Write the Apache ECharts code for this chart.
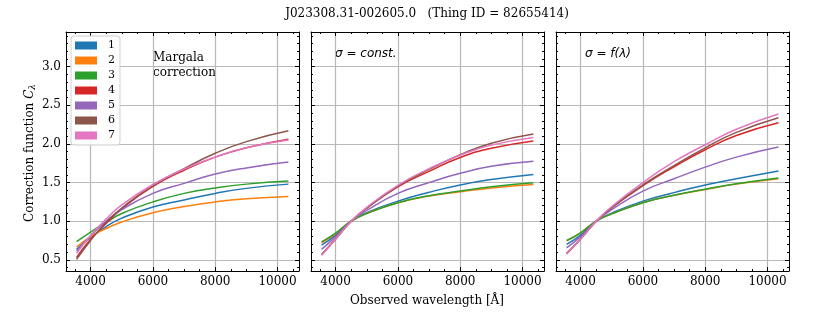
<!DOCTYPE html>
<html>
<head>
<meta charset="utf-8">
<script src="https://cdn.jsdelivr.net/npm/echarts@6/dist/echarts.min.js"></script>
<style>
  html, body { margin: 0; padding: 0; background: #fff; }
  #chart { width: 830px; height: 323px; }
</style>
</head>
<body>
<div id="chart"></div>
<script>
// wavelength samples [Å]
const wavelengths = [3550, 4000, 4500, 5000, 6000, 7000, 8000, 9000, 10350];
const names = ['1', '2', '3', '4', '5', '6', '7'];
const colors = ['#1f77b4', '#ff7f0e', '#2ca02c', '#d62728', '#9467bd', '#8c564b', '#e377c2'];

// Margala correction
const margala1 = [0.635, 0.79, 0.93, 1.04, 1.185, 1.275, 1.36, 1.425, 1.48];
const margala2 = [0.665, 0.80, 0.905, 0.99, 1.11, 1.19, 1.25, 1.29, 1.32];
const margala3 = [0.735, 0.86, 0.985, 1.10, 1.25, 1.36, 1.43, 1.48, 1.52];
const margala4 = [0.53, 0.765, 0.97, 1.16, 1.45, 1.66, 1.83, 1.95, 2.06];
const margala5 = [0.61, 0.81, 1.0, 1.15, 1.36, 1.49, 1.61, 1.69, 1.765];
const margala6 = [0.505, 0.75, 0.985, 1.17, 1.46, 1.68, 1.88, 2.03, 2.17];
const margala7 = [0.585, 0.815, 1.03, 1.21, 1.475, 1.675, 1.83, 1.95, 2.05];

// sigma = const.
const constSig1 = [0.69, 0.82, 1.0, 1.11, 1.26, 1.375, 1.47, 1.54, 1.606];
const constSig2 = [0.72, 0.84, 1.0, 1.10, 1.24, 1.325, 1.38, 1.43, 1.476];
const constSig3 = [0.733, 0.845, 1.0, 1.10, 1.24, 1.33, 1.39, 1.445, 1.497];
const constSig4 = [0.565, 0.77, 1.0, 1.17, 1.445, 1.645, 1.825, 1.945, 2.04];
const constSig5 = [0.635, 0.80, 1.0, 1.14, 1.36, 1.50, 1.62, 1.71, 1.775];
const constSig6 = [0.565, 0.77, 1.0, 1.17, 1.455, 1.67, 1.86, 2.01, 2.128];
const constSig7 = [0.56, 0.77, 1.0, 1.18, 1.465, 1.68, 1.856, 1.985, 2.085];

// sigma = f(lambda)
const varSig1 = [0.70, 0.82, 1.0, 1.105, 1.26, 1.37, 1.47, 1.55, 1.65];
const varSig2 = [0.745, 0.85, 1.0, 1.095, 1.24, 1.335, 1.41, 1.48, 1.55];
const varSig3 = [0.75, 0.85, 1.0, 1.095, 1.24, 1.335, 1.415, 1.485, 1.56];
const varSig4 = [0.58, 0.77, 1.0, 1.175, 1.46, 1.705, 1.925, 2.11, 2.275];
const varSig5 = [0.655, 0.80, 1.0, 1.15, 1.39, 1.55, 1.70, 1.83, 1.96];
const varSig6 = [0.58, 0.77, 1.0, 1.18, 1.47, 1.72, 1.95, 2.15, 2.34];
const varSig7 = [0.575, 0.77, 1.0, 1.19, 1.50, 1.77, 1.99, 2.19, 2.387];

const panels = [
  [margala1, margala2, margala3, margala4, margala5, margala6, margala7],
  [constSig1, constSig2, constSig3, constSig4, constSig5, constSig6, constSig7],
  [varSig1, varSig2, varSig3, varSig4, varSig5, varSig6, varSig7],
];

// tick labels
const xMajor = [4000, 6000, 8000, 10000];
const yMajor = [0.5, 1.0, 1.5, 2.0, 2.5, 3.0];
const xRange = [3210, 10690];
const yRange = [0.355, 3.45];

// minor tick positions (every 500 Å and every 0.1)
const xMinor = [];
for (let v = 3500; v <= 10500; v += 500) if (xMajor.indexOf(v) < 0) xMinor.push(v);
const yMinor = [];
for (let k = 4; k <= 34; k++) if (k % 5 !== 0) yMinor.push(k / 10);

const serif = 'DejaVu Serif';
const gridLefts = [66, 311, 556];

const grids = [];
const xAxes = [];
const yAxes = [];
const series = [];

gridLefts.forEach((left, i) => {
  grids.push({ left: left, top: 32, width: 233, height: 239 });
  const xBase = { gridIndex: i, type: 'value', min: xRange[0], max: xRange[1], splitNumber: 4 };
  const yBase = { gridIndex: i, type: 'value', min: yRange[0], max: yRange[1], splitNumber: 6 };
  const line = { show: true, lineStyle: { color: '#000', width: 1 } };
  // bottom major with labels + grid lines
  xAxes.push(Object.assign({}, xBase, {
    position: 'bottom',
    axisLine: line,
    axisTick: { inside: true, length: 4, customValues: xMajor, lineStyle: { color: '#000' } },
    axisLabel: {
      customValues: xMajor, margin: 5, color: '#000', fontFamily: serif, fontSize: 12,
      formatter: (v) => String(v),
    },
    splitLine: { show: true, lineStyle: { color: '#b8b8b8', width: 1.2 } },
  }));
  xAxes.push(Object.assign({}, xBase, {
    position: 'bottom',
    axisLine: { show: false },
    axisTick: { inside: true, length: 2, customValues: xMinor, lineStyle: { color: '#000' } },
    axisLabel: { show: false },
    splitLine: { show: false },
  }));
  xAxes.push(Object.assign({}, xBase, {
    position: 'top',
    axisLine: line,
    axisTick: { inside: true, length: 4, customValues: xMajor, lineStyle: { color: '#000' } },
    axisLabel: { show: false },
    splitLine: { show: false },
  }));
  xAxes.push(Object.assign({}, xBase, {
    position: 'top',
    axisLine: { show: false },
    axisTick: { inside: true, length: 2, customValues: xMinor, lineStyle: { color: '#000' } },
    axisLabel: { show: false },
    splitLine: { show: false },
  }));
  // y axes
  yAxes.push(Object.assign({}, yBase, {
    position: 'left',
    axisLine: line,
    axisTick: { inside: true, length: 4, customValues: yMajor, lineStyle: { color: '#000' } },
    axisLabel: {
      show: i === 0, customValues: yMajor, margin: 5, color: '#000', fontFamily: serif, fontSize: 12,
      formatter: (v) => v.toFixed(1),
    },
    splitLine: { show: true, lineStyle: { color: '#b8b8b8', width: 1.2 } },
  }));
  yAxes.push(Object.assign({}, yBase, {
    position: 'left',
    axisLine: { show: false },
    axisTick: { inside: true, length: 2, customValues: yMinor, lineStyle: { color: '#000' } },
    axisLabel: { show: false },
    splitLine: { show: false },
  }));
  yAxes.push(Object.assign({}, yBase, {
    position: 'right',
    axisLine: line,
    axisTick: { inside: true, length: 4, customValues: yMajor, lineStyle: { color: '#000' } },
    axisLabel: { show: false },
    splitLine: { show: false },
  }));
  yAxes.push(Object.assign({}, yBase, {
    position: 'right',
    axisLine: { show: false },
    axisTick: { inside: true, length: 2, customValues: yMinor, lineStyle: { color: '#000' } },
    axisLabel: { show: false },
    splitLine: { show: false },
  }));

  panels[i].forEach((vals, k) => {
    series.push({
      name: names[k],
      type: 'line',
      xAxisIndex: i * 4,
      yAxisIndex: i * 4,
      data: wavelengths.map((w, j) => [w, vals[j]]),
      smooth: 0.5,
      showSymbol: false,
      color: colors[k],
      lineStyle: { width: 1.5 },
      z: 3 + k,
    });
  });
});

const myChart = echarts.init(document.getElementById('chart'), null, { renderer: 'canvas' });
myChart.setOption({
  animation: false,
  backgroundColor: '#fff',
  grid: grids,
  xAxis: xAxes,
  yAxis: yAxes,
  series: series,
  legend: {
    data: names,
    orient: 'vertical',
    left: 71,
    top: 36,
    icon: 'rect',
    itemWidth: 22,
    itemHeight: 8,
    itemGap: 0,
    padding: [2, 5, 2, 4],
    backgroundColor: 'rgba(255,255,255,0.85)',
    borderColor: '#d0d0d0',
    borderWidth: 1,
    borderRadius: 3,
    selectedMode: false,
    textStyle: { fontFamily: serif, fontSize: 11, color: '#000', lineHeight: 15, padding: [0, 0, 0, 6] },
  },
  graphic: [
    {
      type: 'text', x: 427, y: 14,
      style: { text: 'J023308.31-002605.0   (Thing ID = 82655414)', font: '12px "DejaVu Serif"', fill: '#000', align: 'center', verticalAlign: 'middle' },
    },
    {
      type: 'text', x: 153, y: 51,
      style: { text: 'Margala\ncorrection', font: '12px "DejaVu Serif"', fill: '#000', lineHeight: 14.5 },
    },
    {
      type: 'text', x: 335, y: 54,
      style: { text: 'σ = const.', font: 'italic 12px "DejaVu Sans"', fill: '#000', verticalAlign: 'middle' },
    },
    {
      type: 'text', x: 585, y: 54,
      style: { text: 'σ = f(λ)', font: 'italic 12px "DejaVu Sans"', fill: '#000', verticalAlign: 'middle' },
    },
    {
      type: 'text', x: 427, y: 301,
      style: { text: 'Observed wavelength [Å]', font: '12px "DejaVu Serif"', fill: '#000', align: 'center', verticalAlign: 'middle' },
    },
    {
      type: 'text', x: 30, y: 153, rotation: Math.PI / 2,
      style: {
        text: '{n|Correction function }{c|C}{s|λ}',
        align: 'center', verticalAlign: 'middle',
        rich: {
          n: { fontFamily: serif, fontSize: 12, fill: '#000' },
          c: { fontFamily: serif, fontStyle: 'italic', fontSize: 12, fill: '#000' },
          s: { fontFamily: serif, fontStyle: 'italic', fontSize: 9, fill: '#000', padding: [5, 0, 0, 0] },
        },
      },
    },
  ],
});
</script>
</body>
</html>
